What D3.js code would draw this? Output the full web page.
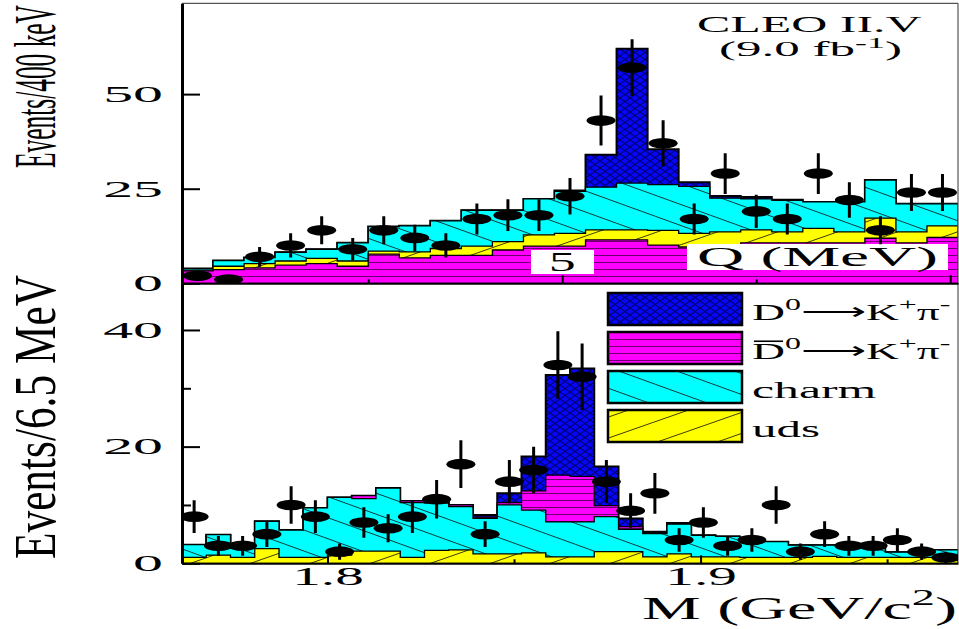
<!DOCTYPE html>
<html><head><meta charset="utf-8">
<script src="https://cdn.jsdelivr.net/npm/d3@7"></script>
<style>html,body{margin:0;padding:0;background:#fff;} svg{display:block;}</style>
</head><body>
<svg id="chart" width="959" height="629"></svg>
<script>
// ---------------- DATA ----------------
// Top panel: Q (MeV), 400 keV bins
const qBinLow = [0.1,0.5,0.9,1.3,1.7,2.1,2.5,2.9,3.3,3.7,4.1,4.5,4.9,5.3,5.7,6.1,6.5,6.9,7.3,7.7,8.1,8.5,8.9,9.3,9.7];
const qBinWidth = 0.4;
const topData   = [2,1,7,10,14,9,14,12,10,17,18,18,23,43,57,37,17,29,19,17,29,22,14,24,24];
const topErr    = [1.4,1.0,2.6,3.2,3.7,3.0,3.7,3.5,3.2,4.1,4.2,4.2,4.8,6.6,7.5,6.1,4.1,5.4,4.4,4.1,5.4,4.7,3.7,4.9,4.9];
const topDbar   = [3.3,3.6,4.1,4.8,5.2,4.5,7.7,6.7,7.4,7.4,8.8,9.8,9.8,11.5,11.5,10.1,9.6,9.6,10.7,10.7,10.7,10.7,11.9,10.7,12.1];
const topUds    = [0.2,0.9,1.1,1.1,1.4,1.4,0.8,1.6,1.8,2.4,2.2,3.0,3.4,2.6,2.6,3.9,3.6,4.0,3.4,2.9,3.8,2.9,5.3,2.9,3.1];
const topCharm  = [0.4,1.5,1.6,2.3,2.4,4.8,6.5,6.9,7.3,9.5,8.3,9.5,11.1,11.3,12.4,12.1,12.4,8.9,8.2,8.3,7.0,7.9,10.1,7.4,5.8];
const topSignal = [0,0,0,0,0,0,0,0,0,0,0,0,0.2,8.6,35.5,9.3,1.1,0.6,0.5,0.2,0,0,0,0,0];
const topYTicks = [0,25,50];
const qMajorTicks = [5,10];
const qMinorTicks = [2.5,7.5];

// Bottom panel: M (GeV/c^2), 6.5 MeV bins
const mBinLow = [1.7610,1.7675,1.7740,1.7805,1.7870,1.7935,1.8000,1.8065,1.8130,1.8195,1.8260,1.8325,1.8390,1.8455,1.8520,1.8585,
                 1.8650,1.8715,1.8780,1.8845,1.8910,1.8975,1.9040,1.9105,1.9170,1.9235,1.9300,1.9365,1.9430,1.9495,1.9560,1.9625];
const mBinWidth = 0.0065;
const botData   = [8,3,3,5,10,8,2,7,6,8,11,17,5,14,16,34,32,14,9,12,4,7,3,4,10,2,5,3,3,4,2,1];
const botErr    = [2.8,1.7,1.7,2.2,3.2,2.8,1.4,2.6,2.4,2.8,3.3,4.1,2.2,3.7,4.0,5.8,5.7,3.7,3.0,3.5,2.0,2.6,1.7,2.0,3.2,1.4,2.2,1.7,1.7,2.0,1.4,1.0];
const botUds    = [1.0,1.4,1.0,2.5,1.0,1.0,1.4,2.1,2.1,1.0,2.2,2.3,1.6,1.6,1.8,1.1,1.1,2.0,2.0,1.1,1.6,1.1,1.1,1.0,1.0,1.0,1.2,1.0,1.0,1.0,1.0,0.8];
const botCharm  = [2.2,3.5,2.0,4.7,4.7,8.5,9.9,9.0,10.8,9.4,8.1,7.4,6.1,8.4,7.3,6.0,6.0,6.0,3.8,4.0,5.1,3.7,3.5,3.1,2.7,2.1,1.9,2.1,2.1,0.9,0.9,1.5];
const botDbar   = [0,0,0,0,0,0,0,0.5,0,0.3,0.3,0.3,0.2,0.4,3.3,8.0,7.8,1.9,0.5,0.1,0,0,0,0,0,0,0,0,0,0,0,0];
const botSignal = [0,0,0,0,0,0,0,0,0,0,0,0,0.4,1.6,5.9,17.2,18.5,6.7,1.4,0.2,0.2,0,0,0,0,0,0,0,0,0,0,0];
const botYTicks = [0,20,40];
const botYMinor = [10,30];
const mMajorTicks = [1.8,1.9];
const mMinorTicks = [1.85,1.95];

const legendLabels = ["D0K+pi-", "Dbar0K+pi-", "charm", "uds"];

// ---------------- LAYOUT ----------------
const FONT = "'Liberation Serif','Times New Roman',Times,serif";
const L = 182, R = 958;
const topY0 = 283.3, topY1 = 3.3, botY0 = 563.3, botY1 = 283.3;

const svg = d3.select("#chart");
svg.append("rect").attr("width",959).attr("height",629).attr("fill","#fff");

const xQ = d3.scaleLinear().domain([0.1, 10.1]).range([L, R]);
const yT = d3.scaleLinear().domain([0, 74]).range([topY0, topY1]);
const xM = d3.scaleLinear().domain([1.761, 1.969]).range([L, R]);
const yB = d3.scaleLinear().domain([0, 48]).range([botY0, botY1]);

// ---------------- PATTERNS ----------------
const defs = svg.append("defs");
function diagPattern(id, w, h, bg, color, sw, dir) {
  const p = defs.append("pattern").attr("id", id).attr("patternUnits","userSpaceOnUse").attr("width", w).attr("height", h);
  p.append("rect").attr("width", w).attr("height", h).attr("fill", bg);
  const segs = [];
  if (dir === "down" || dir === "cross") segs.push([0,0,w,h],[0,-h,2*w,h],[-w,0,w,2*h]);
  if (dir === "up" || dir === "cross") segs.push([0,h,w,0],[-w,h,w,-h],[0,2*h,2*w,0]);
  segs.forEach(s => p.append("line").attr("x1",s[0]).attr("y1",s[1]).attr("x2",s[2]).attr("y2",s[3])
    .attr("stroke", color).attr("stroke-width", sw));
}
diagPattern("pBlue", 10, 7, "#0606ff", "#000070", 1.1, "cross");
diagPattern("pCyan", 58, 21, "#00ffff", "#0b3b3b", 1, "down");
diagPattern("pYel", 60, 21, "#ffff00", "#3d3d00", 1, "up");
{
  const p = defs.append("pattern").attr("id","pMag").attr("patternUnits","userSpaceOnUse").attr("width",10).attr("height",7);
  p.append("rect").attr("width",10).attr("height",7).attr("fill","#ff00ff");
  p.append("line").attr("x1",0).attr("x2",10).attr("y1",3.5).attr("y2",3.5).attr("stroke","#5a005a").attr("stroke-width",0.9);
}
defs.append("clipPath").attr("id","clipTop").append("rect").attr("x",L).attr("y",topY1).attr("width",R-L).attr("height",topY0-topY1);
defs.append("clipPath").attr("id","clipBot").append("rect").attr("x",L).attr("y",botY1).attr("width",R-L).attr("height",botY0-botY1);

// ---------------- HELPERS ----------------
function drawStack(g, x, y, lows, width, layers) {
  const n = lows.length;
  let cum = new Array(n).fill(0);
  const cums = layers.map(l => { cum = cum.map((c, i) => c + l.vals[i]); return {fill: l.fill, tops: cum.slice()}; });
  const area = d3.area().x(d => x(d[0])).y0(y(0)).y1(d => y(d[1]));
  for (let k = cums.length - 1; k >= 0; k--) {
    const pts = [];
    lows.forEach((lo, i) => { pts.push([lo, cums[k].tops[i]]); pts.push([lo + width, cums[k].tops[i]]); });
    g.append("path").attr("d", area(pts)).attr("fill", cums[k].fill)
      .attr("stroke", "#000").attr("stroke-width", k === cums.length - 1 ? 2 : 1.3).attr("stroke-linejoin","miter");
  }
}
function drawPoints(g, x, y, lows, width, vals, errs) {
  const idx = d3.range(lows.length);
  g.selectAll(null).data(idx).join("line")
    .attr("x1", i => x(lows[i] + width / 2)).attr("x2", i => x(lows[i] + width / 2))
    .attr("y1", i => y(vals[i] - errs[i])).attr("y2", i => y(vals[i] + errs[i]))
    .attr("stroke", "#000").attr("stroke-width", 3);
  g.selectAll(null).data(idx).join("ellipse")
    .attr("cx", i => x(lows[i] + width / 2)).attr("cy", i => y(vals[i]))
    .attr("rx", 14.5).attr("ry", 5.3).attr("fill", "#000");
}
function rich(parts, size, shift) {
  return t => {
    let up = false;
    parts.forEach(([s, sup]) => {
      const ts = t.append("tspan").text(s);
      if (sup) { ts.attr("font-size", 0.7 * size); if (!up) { ts.attr("dy", -shift * size); up = true; } }
      else if (up) { ts.attr("dy", shift * size); up = false; }
    });
  };
}
function stext(parent, x, y, size, width, anchor, build, opts = {}) {
  const g = parent.append("g").attr("transform", `translate(${x},${y})` + (opts.rotate ? ` rotate(${opts.rotate})` : ""));
  const g2 = g.append("g");
  const t = g2.append("text").attr("font-family", FONT).attr("font-size", size).attr("text-anchor", anchor).attr("fill", "#000");
  if (typeof build === "string") t.text(build); else build(t);
  const w = t.node().getBBox().width;
  g2.attr("transform", `scale(${width / w},${opts.cross || 1})`);
  return {g2, t, size};
}

// ---------------- TOP PANEL ----------------
const gTop = svg.append("g").attr("clip-path", "url(#clipTop)");
drawStack(gTop, xQ, yT, qBinLow, qBinWidth, [
  {vals: topDbar, fill: "url(#pMag)"},
  {vals: topUds, fill: "url(#pYel)"},
  {vals: topCharm, fill: "url(#pCyan)"},
  {vals: topSignal, fill: "url(#pBlue)"}
]);

// ---------------- BOTTOM PANEL ----------------
const gBot = svg.append("g").attr("clip-path", "url(#clipBot)");
drawStack(gBot, xM, yB, mBinLow, mBinWidth, [
  {vals: botUds, fill: "url(#pYel)"},
  {vals: botCharm, fill: "url(#pCyan)"},
  {vals: botDbar, fill: "url(#pMag)"},
  {vals: botSignal, fill: "url(#pBlue)"}
]);

// white label boxes in top panel
svg.append("rect").attr("x", 531).attr("y", 250).attr("width", 63).attr("height", 24).attr("fill", "#fff");
stext(svg, xQ(5), 271, 28, 27, "middle", "5");
svg.append("rect").attr("x", 687).attr("y", 244).attr("width", 261).attr("height", 26).attr("fill", "#fff");
stext(svg, 697, 266, 28, 241, "start", "Q (MeV)");

// frame
svg.append("line").attr("x1", L).attr("x2", R).attr("y1", topY1).attr("y2", topY1).attr("stroke", "#555").attr("stroke-width", 1.2);
svg.append("line").attr("x1", R).attr("x2", R).attr("y1", topY1).attr("y2", botY0).attr("stroke", "#555").attr("stroke-width", 1.2);

// ---------------- AXES ----------------
function styleAxis(a, w) {
  a.select(".domain").attr("stroke", "#000").attr("stroke-width", w);
  a.selectAll(".tick line").attr("stroke", "#000").attr("stroke-width", 2);
}
function yAxis(scale, major, minor) {
  const a = svg.append("g").attr("transform", `translate(${L},0)`)
    .call(d3.axisLeft(scale).tickValues(major).tickSize(-18).tickSizeOuter(0).tickPadding(19));
  styleAxis(a, 3);
  a.selectAll(".tick text").attr("font-family", FONT).attr("font-size", 23).attr("fill", "#000")
    .attr("x", 0).attr("transform", "translate(-19,0) scale(2.6,1)");
  if (minor) {
    const m = svg.append("g").attr("transform", `translate(${L},0)`)
      .call(d3.axisLeft(scale).tickValues(minor).tickSize(-9).tickSizeOuter(0).tickFormat(""));
    m.select(".domain").remove();
    m.selectAll(".tick line").attr("stroke", "#000").attr("stroke-width", 2);
  }
}
yAxis(yT, topYTicks, null);
yAxis(yB, botYTicks, botYMinor);

function xAxis(scale, y0, major, minor, labels) {
  const ax = d3.axisBottom(scale).tickValues(major).tickSize(-8).tickSizeOuter(0).tickPadding(3);
  if (!labels) ax.tickFormat("");
  else ax.tickFormat(d3.format(".1f"));
  const a = svg.append("g").attr("transform", `translate(0,${y0})`).call(ax);
  styleAxis(a, 2);
  if (labels) a.selectAll(".tick text").attr("font-family", FONT).attr("font-size", 26).attr("fill", "#000")
    .attr("transform", "scale(2.2,1)");
  const m = svg.append("g").attr("transform", `translate(0,${y0})`)
    .call(d3.axisBottom(scale).tickValues(minor).tickSize(-4).tickSizeOuter(0).tickFormat(""));
  m.select(".domain").remove();
  m.selectAll(".tick line").attr("stroke", "#000").attr("stroke-width", 2);
}
xAxis(xQ, topY0, qMajorTicks, qMinorTicks, false);
xAxis(xM, botY0, mMajorTicks, mMinorTicks, true);

// ---------------- TEXTS ----------------
stext(svg, 55, 168, 25, 163, "start", "Events/400 keV", {rotate: -90, cross: 2.4});
stext(svg, 55, 559, 25, 284, "start", "Events/6.5 MeV", {rotate: -90, cross: 2.4});
stext(svg, 957, 619, 32, 315, "end", rich([["M (GeV/c", false], ["2", true], [")", false]], 32, 0.45));
stext(svg, 697, 32, 24, 226, "start", "CLEO II.V");
stext(svg, 719, 56, 21, 183, "start", rich([["(9.0 fb", false], ["-1", true], [")", false]], 21, 0.36));

// ---------------- LEGEND ----------------
const legFills = ["url(#pBlue)", "url(#pMag)", "url(#pCyan)", "url(#pYel)"];
const legY = [293, 332, 371, 410];
legFills.forEach((f, i) => {
  svg.append("rect").attr("x", 608).attr("y", legY[i]).attr("width", 134).attr("height", 32)
    .attr("fill", f).attr("stroke", "#000").attr("stroke-width", 2.5);
});
const arrowParts = () => [["D", false], ["0", true], ["\u27F6K", false], ["+", true], ["\u03C0", false], ["-", true]];
stext(svg, 752, 320, 24, 198, "start", rich(arrowParts(), 24, 0.42));
const lab2 = stext(svg, 752, 359, 24, 198, "start", rich(arrowParts(), 24, 0.42));
{
  const ext = lab2.t.node().getExtentOfChar(0);
  lab2.g2.append("line").attr("x1", ext.x + 1).attr("x2", ext.x + ext.width - 1)
    .attr("y1", -0.74 * 24).attr("y2", -0.74 * 24).attr("stroke", "#000").attr("stroke-width", 1.6);
}
stext(svg, 752, 398, 24, 125, "start", legendLabels[2]);
stext(svg, 752, 437, 24, 68, "start", legendLabels[3]);

// ---------------- DATA POINTS ----------------
drawPoints(svg.append("g").attr("clip-path", "url(#clipTop)"), xQ, yT, qBinLow, qBinWidth, topData, topErr);
drawPoints(svg.append("g").attr("clip-path", "url(#clipBot)"), xM, yB, mBinLow, mBinWidth, botData, botErr);
</script>
</body></html>
